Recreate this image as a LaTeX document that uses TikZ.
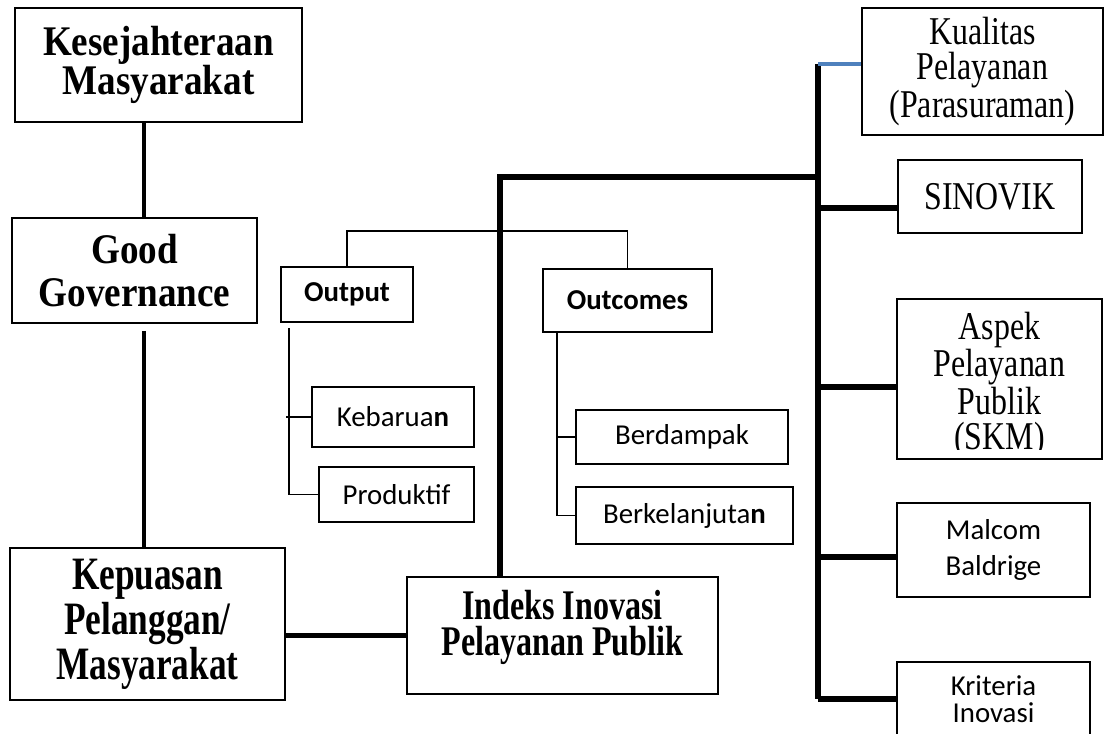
\documentclass[tikz,border=0pt]{standalone}
\usepackage{fontspec}
\usepackage{xcolor}
\usepackage{tikz}
\setmainfont{Liberation Serif}
\newfontfamily\headfont[FakeStretch=0.88]{Liberation Serif}
\newfontfamily\narrowfont[FakeStretch=0.76]{Liberation Serif}
\newfontfamily\plainfont[FakeStretch=0.81]{Liberation Serif}
\newfontfamily\bodyfont{Carlito}
\definecolor{linkblue}{RGB}{79,129,189}

\begin{document}
\begin{tikzpicture}[
    x=0.025cm, y=-0.025cm,
    headbox/.style={draw, line width=1pt, align=center, inner sep=0pt, font=\headfont\bfseries\fontsize{30}{24}\selectfont},
    narrowbox/.style={draw, line width=1pt, align=center, inner sep=0pt, font=\narrowfont\bfseries\fontsize{33}{32}\selectfont},
    plainbox/.style={draw, line width=1pt, align=center, inner sep=0pt, font=\plainfont\fontsize{28}{25}\selectfont},
    sansbox/.style={draw, line width=1pt, align=center, inner sep=0pt, font=\bodyfont\fontsize{20.5}{25.5}\selectfont},
    trunk/.style={line width=4.3pt},
    link/.style={line width=2.8pt},
    thinlink/.style={line width=1.2pt},
    bluelink/.style={line width=3pt, draw=linkblue},
]
    \useasboundingbox (0,0) rectangle (1104,733);

    % left column
    \node[headbox, minimum width=7.175cm, minimum height=2.85cm]  (kes) at (158.5,65)   {Kesejahteraan\\Masyarakat};
    \node[headbox, minimum width=6.125cm, minimum height=2.625cm] (gg)  at (134.5,270.5) {Good\\[6.5pt]Governance};
    \node[narrowbox, minimum width=6.875cm, minimum height=3.8cm] (kep) at (147.5,624)  {Kepuasan\\Pelanggan/\\Masyarakat};

    % index box
    \node[draw, line width=1pt, minimum width=7.775cm, minimum height=2.925cm] (idx) at (562.5,635.5) {};
    \node[align=center, inner sep=0pt, font=\narrowfont\bfseries\fontsize{30}{25.6}\selectfont] (idxtext) at (562.5,627) {Indeks Inovasi\\Pelayanan Publik};

    % output / outcomes
    \node[sansbox, minimum width=3.3cm, minimum height=1.375cm]   (output)   at (347,294.5)   {\bfseries Output};
    \node[sansbox, minimum width=4.225cm, minimum height=1.575cm] (outcomes) at (627.5,300.5) {\bfseries Outcomes};
    \node[sansbox, minimum width=4.05cm, minimum height=1.5cm]    (kebaruan)  at (393,417)     {Kebarua\textbf{n}};
    \node[sansbox, minimum width=3.875cm, minimum height=1.375cm] (produktif) at (396.5,494.5) {Produktif};
    \node[sansbox, minimum width=5.3cm, minimum height=1.35cm]    (berdampak) at (682,437)     {Berdampak};
    \node[sansbox, minimum width=5.425cm, minimum height=1.425cm] (lanjut)    at (684.5,515.5) {Berkelanjuta\textbf{n}};

    % right column
    \node[plainbox, minimum width=6.025cm, minimum height=3.175cm] (kual)    at (982.5,71.5) {Kualitas\\Pelayanan\\(Parasuraman)};
    \node[plainbox, minimum width=4.6cm, minimum height=1.825cm]   (sinovik) at (990,196.5)  {SINOVIK};
    \node[draw, line width=1pt, minimum width=5.125cm, minimum height=4cm] (aspek) at (999.5,379) {};
    \begin{scope}
        \clip (897,299) rectangle (1102,449);
        \node[align=center, inner sep=0pt, font=\plainfont\fontsize{28}{24.9}\selectfont] (aspektext) at (999.5,385) {Aspek\\Pelayanan\\Publik\\(SKM)};
    \end{scope}
    \node[sansbox, minimum width=4.825cm, minimum height=2.35cm] (malcom)   at (993.5,550) {Malcom\\Baldrige};
    \node[sansbox, minimum width=4.825cm, minimum height=1.85cm, font=\bodyfont\fontsize{20.5}{19.2}\selectfont] (kriteria) at (993.5,699) {Kriteria\\Inovasi};

    \coordinate (spine)     at (144,0);
    \coordinate (bend)      at (500,177);
    \coordinate (trunktop)  at (818,64);
    \coordinate (trunkbot)  at (818,699);
    \coordinate (outrail)   at (289,0);
    \coordinate (outcrail)  at (557,0);

    % left spine
    \draw[link] (kes.south -| spine) -- (gg.north -| spine);
    \draw[link] ([yshift=-5pt]gg.south -| spine) -- (kep.north -| spine);
    \draw[line width=3.5pt] (kep.east |- idx.west) -- (idx.west);

    % trunk and branches
    \draw[trunk] (idx.north -| bend) |- (trunktop |- bend);
    \draw[trunk] (trunktop) -- (trunkbot);
    \draw[bluelink] (trunktop) -- (kual.west |- trunktop);
    \draw[trunk] (818,208) -- (sinovik.west |- 818,208);
    \draw[trunk] (818,387) -- (aspek.west |- 818,387);
    \draw[trunk] (818,557) -- (malcom.west |- 818,557);
    \draw[trunk] (trunkbot) -- (kriteria.west |- trunkbot);

    % output / outcomes bracket
    \draw[thinlink] (output.north) -- ++(0,-35) -| (outcomes.north);
    \draw[thinlink] ([yshift=-4pt]output.south -| outrail) |- (produktif.west);
    \draw[thinlink] ([xshift=-2pt]kebaruan.west -| outrail) -- (kebaruan.west);
    \draw[thinlink] (outcomes.south -| outcrail) |- (lanjut.west);
    \draw[thinlink] (berdampak.west -| outcrail) -- (berdampak.west);
\end{tikzpicture}
\end{document}
